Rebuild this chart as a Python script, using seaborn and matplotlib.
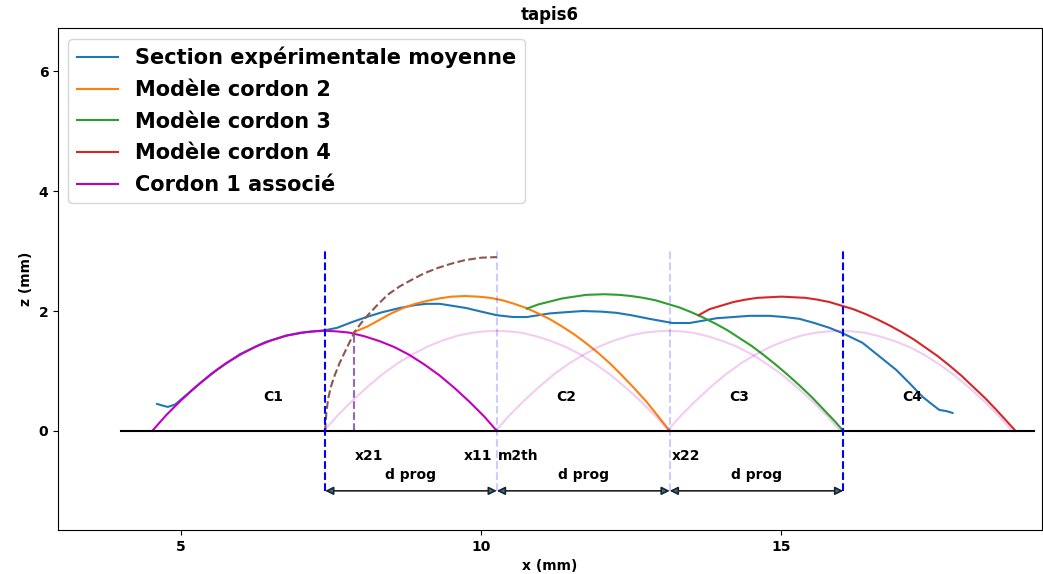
import matplotlib
matplotlib.use("Agg")
import matplotlib.pyplot as plt
import seaborn as sns

# Section expérimentale moyenne (mesure)
exp_x = [4.60, 4.70, 4.78, 4.90, 5.03, 5.30, 5.60, 5.98, 6.40, 6.76, 7.10, 7.40, 7.60,
         7.86, 8.09, 8.35, 8.64, 8.90, 9.09, 9.31, 9.50, 9.75, 10.00, 10.26, 10.53, 10.76,
         11.14, 11.40, 11.69, 12.00, 12.25, 12.50, 12.80, 13.19, 13.47, 13.70, 13.92, 14.20,
         14.47, 14.80, 15.05, 15.30, 15.55, 15.80, 16.02, 16.35, 16.60, 16.91, 17.13, 17.35,
         17.50, 17.63, 17.75, 17.85]
exp_z = [0.45, 0.42, 0.40, 0.44, 0.55, 0.78, 1.02, 1.28, 1.48, 1.59, 1.65, 1.68, 1.72,
         1.82, 1.90, 1.98, 2.05, 2.10, 2.12, 2.12, 2.09, 2.05, 1.99, 1.93, 1.90, 1.90,
         1.96, 1.98, 2.00, 1.99, 1.97, 1.93, 1.87, 1.80, 1.80, 1.84, 1.88, 1.90,
         1.92, 1.92, 1.90, 1.87, 1.80, 1.72, 1.63, 1.47, 1.27, 1.02, 0.80, 0.57,
         0.45, 0.35, 0.33, 0.30]

# Cordon 1 associé
c1_x = [4.52, 4.75, 5.00, 5.25, 5.50, 5.75, 6.00, 6.25, 6.50, 6.75, 7.00, 7.20, 7.39,
        7.60, 7.80, 8.05, 8.30, 8.55, 8.80, 9.05, 9.30, 9.55, 9.80, 10.05, 10.26]
c1_z = [0.0, 0.26, 0.51, 0.74, 0.95, 1.13, 1.28, 1.41, 1.51, 1.59, 1.64, 1.66, 1.67,
        1.66, 1.64, 1.58, 1.50, 1.40, 1.27, 1.11, 0.93, 0.72, 0.49, 0.24, 0.0]

# Modèles cordons 2, 3, 4
c2_x = [7.88, 8.10, 8.30, 8.50, 8.70, 8.90, 9.10, 9.30, 9.50, 9.73, 9.95, 10.15, 10.35,
        10.55, 10.75, 10.95, 11.15, 11.35, 11.55, 11.75, 11.95, 12.15, 12.35, 12.55,
        12.75, 12.95, 13.14]
c2_z = [1.65, 1.74, 1.85, 1.96, 2.05, 2.12, 2.17, 2.21, 2.24, 2.25, 2.24, 2.22, 2.18,
        2.12, 2.05, 1.96, 1.86, 1.74, 1.61, 1.46, 1.30, 1.12, 0.92, 0.71, 0.49, 0.24, 0.0]
c3_x = [10.76, 10.95, 11.15, 11.35, 11.55, 11.75, 12.05, 12.30, 12.50, 12.70, 12.90,
        13.10, 13.30, 13.50, 13.70, 13.90, 14.10, 14.30, 14.50, 14.70, 14.90, 15.10,
        15.30, 15.50, 15.70, 15.90, 16.03]
c3_z = [2.04, 2.11, 2.16, 2.21, 2.24, 2.27, 2.28, 2.27, 2.25, 2.22, 2.18, 2.12, 2.06,
        1.98, 1.89, 1.79, 1.68, 1.55, 1.42, 1.27, 1.11, 0.94, 0.76, 0.57, 0.36, 0.15, 0.0]
c4_x = [13.62, 13.80, 14.00, 14.20, 14.40, 14.60, 14.80, 15.00, 15.20, 15.40, 15.60,
        15.80, 16.00, 16.20, 16.40, 16.60, 16.80, 17.00, 17.20, 17.40, 17.60, 17.80,
        18.00, 18.20, 18.40, 18.60, 18.90]
c4_z = [1.93, 2.03, 2.09, 2.15, 2.19, 2.22, 2.23, 2.24, 2.23, 2.22, 2.19, 2.15, 2.09,
        2.03, 1.95, 1.86, 1.76, 1.65, 1.53, 1.39, 1.25, 1.09, 0.92, 0.73, 0.54, 0.33, 0.0]

# arc m2th (pointillé marron)
m2_x = [7.40, 7.42, 7.45, 7.50, 7.56, 7.64, 7.73, 7.89, 8.00, 8.11, 8.25, 8.44, 8.64,
        8.84, 9.05, 9.28, 9.50, 9.73, 10.00, 10.26]
m2_z = [0.0, 0.30, 0.54, 0.75, 0.93, 1.13, 1.32, 1.65, 1.80, 1.93, 2.08, 2.27, 2.41,
        2.52, 2.63, 2.72, 2.79, 2.85, 2.89, 2.90]

# repères
x_prog = [7.40, 10.26, 13.14, 16.03]
x21 = 7.88
z21 = 1.65
z_top = 3.0
z_arrow = -1.0
base_x = [4.0, 19.2]
labels_c = ["C1", "C2", "C3", "C4"]
labels_c_x = [6.54, 11.42, 14.30, 17.18]

plt.rcParams["font.weight"] = "bold"
plt.rcParams["axes.labelweight"] = "bold"
plt.rcParams["axes.titleweight"] = "bold"

fig, ax = plt.subplots(figsize=(10.43, 5.74), dpi=100)
fig.subplots_adjust(left=0.0556, right=0.999, bottom=0.077, top=0.951)

sns.lineplot(x=exp_x, y=exp_z, sort=False, estimator=None, color="tab:blue",
             label="Section expérimentale moyenne", ax=ax)
sns.lineplot(x=c2_x, y=c2_z, sort=False, estimator=None, color="tab:orange",
             label="Modèle cordon 2", ax=ax)
sns.lineplot(x=c3_x, y=c3_z, sort=False, estimator=None, color="tab:green",
             label="Modèle cordon 3", ax=ax)
sns.lineplot(x=c4_x, y=c4_z, sort=False, estimator=None, color="tab:red",
             label="Modèle cordon 4", ax=ax)
sns.lineplot(x=c1_x, y=c1_z, sort=False, estimator=None, color="m",
             label="Cordon 1 associé", ax=ax)

# cordons suivants (translatés de d prog)
d_prog = x_prog[1] - x_prog[0]
for k in range(1, 4):
    ax.plot([x + k * d_prog for x in c1_x], c1_z, color="m", alpha=0.2)

ax.plot(m2_x, m2_z, color="tab:brown", linestyle="--", linewidth=1.5)
ax.plot([x21, x21], [0, z21], color="tab:purple", linestyle="--", linewidth=1.5)
ax.plot(base_x, [0, 0], color="black", linewidth=1.5)

for i, xp in enumerate(x_prog):
    alpha = 1.0 if i in (0, 3) else 0.2
    ax.plot([xp, xp], [z_arrow, z_top], color="blue", linestyle="--", linewidth=1.5, alpha=alpha)

for a, b in zip(x_prog[:-1], x_prog[1:]):
    ax.annotate("", xy=(b, z_arrow), xytext=(a, z_arrow),
                arrowprops=dict(arrowstyle="<|-|>", edgecolor="#222222", facecolor="tab:blue",
                                lw=1.2, mutation_scale=12, shrinkA=0, shrinkB=0))
    ax.text((a + b) / 2, -0.73, "d prog", ha="center", va="center", fontsize=10)

for lab, xc in zip(labels_c, labels_c_x):
    ax.text(xc, 0.57, lab, ha="center", va="center", fontsize=10)

ax.text(x21 + 0.02, -0.42, "x21", ha="left", va="center", fontsize=10)
ax.text(x_prog[1] - 0.07, -0.42, "x11", ha="right", va="center", fontsize=10)
ax.text(x_prog[1] + 0.02, -0.42, "m2th", ha="left", va="center", fontsize=10)
ax.text(x_prog[2] + 0.03, -0.42, "x22", ha="left", va="center", fontsize=10)

ax.set_xlim(2.95, 19.34)
ax.set_ylim(-1.65, 6.72)
ax.set_xticks([5, 10, 15])
ax.set_yticks([0, 2, 4, 6])
ax.set_xlabel("x (mm)")
ax.set_ylabel("z (mm)")
ax.set_title("tapis6")
ax.legend(loc="upper left", prop={"weight": "bold", "size": 15}, labelspacing=0.56)

fig.savefig("out.png", dpi=100)
